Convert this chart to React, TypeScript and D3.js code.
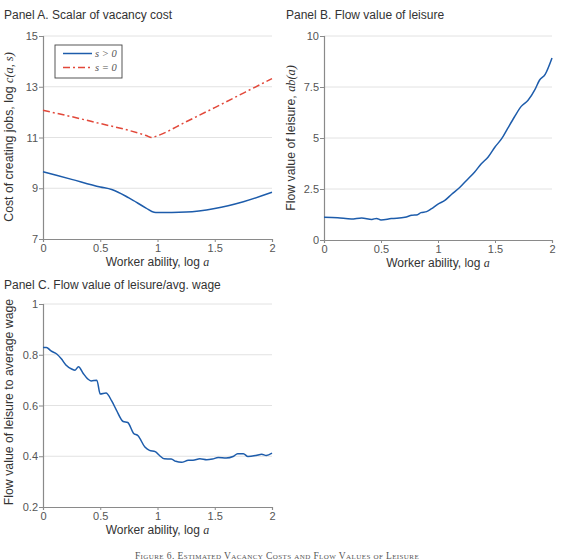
import * as React from "react"
import { select, scaleLinear, line, curveMonotoneX, axisLeft, axisBottom } from "d3"

// log worker ability grid shared by the panels
const abilityA = [0, 0.25, 0.5, 0.6, 0.75, 0.9, 0.97, 1.0, 1.25, 1.5, 1.75, 2.0]
const costPositive = [9.65, 9.35, 9.05, 8.95, 8.62, 8.22, 8.05, 8.04, 8.06, 8.2, 8.47, 8.84]
const abilityZero = [0, 0.25, 0.5, 0.75, 0.9, 0.95, 1.0, 1.25, 1.5, 1.75, 2.0]
const costZero = [12.07, 11.82, 11.55, 11.28, 11.08, 11.0, 11.07, 11.62, 12.18, 12.75, 13.32]

const abilityB = [0, 0.12, 0.24, 0.33, 0.42, 0.46, 0.5, 0.59, 0.71, 0.77, 0.82, 0.85, 0.9, 0.94, 1.0, 1.06, 1.12, 1.19, 1.25, 1.32, 1.38, 1.44, 1.5, 1.56, 1.61, 1.67, 1.73, 1.79, 1.85, 1.89, 1.94, 2.0]
const leisureValue = [1.11, 1.09, 1.03, 1.08, 1.01, 1.06, 0.98, 1.05, 1.11, 1.21, 1.24, 1.34, 1.39, 1.52, 1.76, 1.94, 2.24, 2.57, 2.92, 3.32, 3.74, 4.07, 4.56, 4.98, 5.46, 6.03, 6.55, 6.85, 7.37, 7.83, 8.12, 8.92]

const abilityC = [0, 0.03, 0.07, 0.12, 0.16, 0.2, 0.25, 0.28, 0.31, 0.35, 0.39, 0.42, 0.47, 0.5, 0.55, 0.6, 0.64, 0.7, 0.74, 0.79, 0.83, 0.89, 0.93, 0.98, 1.02, 1.06, 1.12, 1.16, 1.21, 1.27, 1.31, 1.37, 1.43, 1.48, 1.53, 1.6, 1.66, 1.7, 1.75, 1.79, 1.86, 1.91, 1.95, 2.0]
const leisureToWage = [0.829, 0.829, 0.815, 0.803, 0.784, 0.76, 0.744, 0.739, 0.753, 0.727, 0.705, 0.697, 0.7, 0.645, 0.649, 0.618, 0.583, 0.537, 0.533, 0.491, 0.481, 0.436, 0.423, 0.418, 0.402, 0.39, 0.389, 0.38, 0.376, 0.384, 0.384, 0.39, 0.386, 0.389, 0.395, 0.393, 0.399, 0.41, 0.41, 0.399, 0.403, 0.408, 0.403, 0.412]

const xTicks = [0, 0.5, 1, 1.5, 2]
const yTicksA = [7, 9, 11, 13, 15]
const yTicksB = [0, 2.5, 5, 7.5, 10]
const yTicksC = [0.2, 0.4, 0.6, 0.8, 1]

const BLUE = "#1d5cab"
const RED = "#e2483a"
const SANS = "'Liberation Sans', Arial, sans-serif"
const SERIF = "'Liberation Serif', 'Times New Roman', serif"

function drawPanel(svg, opts) {
  const { x0, x1, yTop, yBot, yDomain, yTicks, title, titleX, titleY } = opts
  const x = scaleLinear().domain([0, 2]).range([x0, x1])
  const y = scaleLinear().domain(yDomain).range([yBot, yTop])
  const g = svg.append("g")

  // horizontal gridlines
  g.append("g")
    .selectAll("line")
    .data(yTicks.slice(1))
    .join("line")
    .attr("x1", x0)
    .attr("x2", x1)
    .attr("y1", (d) => y(d))
    .attr("y2", (d) => y(d))
    .attr("stroke", "#e2e2e2")
    .attr("stroke-width", 1)

  const yAxis = g
    .append("g")
    .attr("transform", `translate(${x0},0)`)
    .call(axisLeft(y).tickValues(yTicks).tickSize(4).tickPadding(1).tickFormat((d) => String(d)))
  const xAxis = g
    .append("g")
    .attr("transform", `translate(0,${yBot})`)
    .call(axisBottom(x).tickValues(xTicks).tickSize(3).tickPadding(2).tickFormat((d) => String(d)))

  for (const ax of [xAxis, yAxis]) {
    ax.select(".domain").attr("stroke", "#8a8a8a").attr("stroke-width", 1.2)
    ax.selectAll(".tick line").attr("stroke", "#8a8a8a")
    ax.selectAll(".tick text")
      .attr("fill", "#555")
      .style("font-family", SANS)
      .style("font-size", "11px")
  }

  g.append("text")
    .attr("x", titleX)
    .attr("y", titleY)
    .attr("fill", "#333")
    .style("font-family", SANS)
    .style("font-size", "12px")
    .text(title)

  // x axis label
  const xl = g
    .append("text")
    .attr("x", (x0 + x1) / 2)
    .attr("y", yBot + 27)
    .attr("text-anchor", "middle")
    .attr("fill", "#333")
    .style("font-family", SANS)
    .style("font-size", "12px")
  xl.append("tspan").text("Worker ability, log ")
  xl.append("tspan").style("font-family", SERIF).style("font-style", "italic").text("a")

  return { g, x, y }
}

function yLabel(g, cx, cy, plain, math) {
  const t = g
    .append("text")
    .attr("transform", `translate(${cx},${cy}) rotate(-90)`)
    .attr("text-anchor", "middle")
    .attr("fill", "#333")
    .style("font-family", SANS)
    .style("font-size", "12.3px")
  t.append("tspan").text(plain)
  if (math) t.append("tspan").style("font-family", SERIF).style("font-style", "italic").text(math)
}

function FigureSix() {
  const svgRef = React.useRef(null)
  const width = 567
  const height = 560

  React.useEffect(() => {
    const svg = select(svgRef.current)
    svg.selectAll("*").remove()

    // Panel A
    const a = drawPanel(svg, {
      x0: 43, x1: 272, yTop: 36, yBot: 239,
      yDomain: [7, 15], yTicks: yTicksA,
      title: "Panel A. Scalar of vacancy cost", titleX: 4, titleY: 19,
    })
    yLabel(a.g, 13, 137, "Cost of creating jobs, log ", "c(a, s)")
    const lineA = line().curve(curveMonotoneX).x((d) => a.x(d[0])).y((d) => a.y(d[1]))
    a.g.append("path")
      .datum(abilityZero.map((v, i) => [v, costZero[i]]))
      .attr("fill", "none")
      .attr("stroke", RED)
      .attr("stroke-width", 1.5)
      .attr("stroke-dasharray", "7,3,2,3")
      .attr("d", lineA)
    a.g.append("path")
      .datum(abilityA.map((v, i) => [v, costPositive[i]]))
      .attr("fill", "none")
      .attr("stroke", BLUE)
      .attr("stroke-width", 1.5)
      .attr("d", lineA)

    // legend
    const lg = a.g.append("g").attr("transform", "translate(55,45)")
    lg.append("rect").attr("width", 67).attr("height", 33).attr("fill", "#fff").attr("stroke", "#444").attr("stroke-width", 0.9)
    const items = [
      { label: "s > 0", color: BLUE, dash: null },
      { label: "s = 0", color: RED, dash: "7,3,2,3" },
    ]
    items.forEach((it, i) => {
      const yy = 8.5 + i * 14
      lg.append("line")
        .attr("x1", 8).attr("x2", 37).attr("y1", yy).attr("y2", yy)
        .attr("stroke", it.color).attr("stroke-width", 1.5)
        .attr("stroke-dasharray", it.dash)
      lg.append("text")
        .attr("x", 40).attr("y", yy + 3.5)
        .attr("fill", "#555")
        .style("font-family", SERIF).style("font-style", "italic").style("font-size", "10.5px")
        .text(it.label)
    })

    // Panel B
    const b = drawPanel(svg, {
      x0: 324, x1: 552, yTop: 36, yBot: 240,
      yDomain: [0, 10], yTicks: yTicksB,
      title: "Panel B. Flow value of leisure", titleX: 286, titleY: 19,
    })
    yLabel(b.g, 295, 138, "Flow value of leisure, ", "ab(a)")
    b.g.append("path")
      .datum(abilityB.map((v, i) => [v, leisureValue[i]]))
      .attr("fill", "none")
      .attr("stroke", BLUE)
      .attr("stroke-width", 1.5)
      .attr("d", line().curve(curveMonotoneX).x((d) => b.x(d[0])).y((d) => b.y(d[1])))

    // Panel C
    const c = drawPanel(svg, {
      x0: 43, x1: 272, yTop: 304, yBot: 507,
      yDomain: [0.2, 1], yTicks: yTicksC,
      title: "Panel C. Flow value of leisure/avg. wage", titleX: 4, titleY: 289,
    })
    yLabel(c.g, 13, 402, "Flow value of leisure to average wage", null)
    c.g.append("path")
      .datum(abilityC.map((v, i) => [v, leisureToWage[i]]))
      .attr("fill", "none")
      .attr("stroke", BLUE)
      .attr("stroke-width", 1.5)
      .attr("d", line().curve(curveMonotoneX).x((d) => c.x(d[0])).y((d) => c.y(d[1])))

    // figure caption
    svg.append("text")
      .attr("x", 277)
      .attr("y", 559)
      .attr("text-anchor", "middle")
      .attr("fill", "#555")
      .style("font-family", SERIF)
      .style("font-size", "9.5px")
      .style("font-variant", "small-caps")
      .style("letter-spacing", "0.4px")
      .text("Figure 6. Estimated Vacancy Costs and Flow Values of Leisure")
  }, [])

  return (
    <svg
      ref={svgRef}
      width={width}
      height={height}
      style={{ position: "absolute", left: 0, top: 0, background: "#fff" }}
    />
  )
}

export default function App() {
  return <FigureSix />
}
